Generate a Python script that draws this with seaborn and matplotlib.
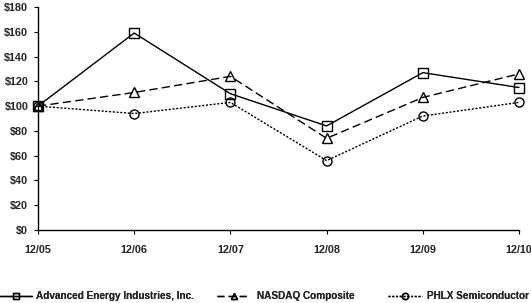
import matplotlib
matplotlib.use("Agg")
import matplotlib.pyplot as plt
import seaborn as sns
import pandas as pd
from matplotlib.lines import Line2D

periods = ["12/05", "12/06", "12/07", "12/08", "12/09", "12/10"]
aeis = [100, 159, 110, 84, 127, 115]
nasdaq = [100, 111, 124, 74, 107, 126]
phlx = [100, 94, 103, 56, 92, 103]
series_names = ["Advanced Energy Industries, Inc.", "NASDAQ Composite", "PHLX Semiconductor"]
y_ticks = [0, 20, 40, 60, 80, 100, 120, 140, 160, 180]

rows = []
for name, vals in zip(series_names, [aeis, nasdaq, phlx]):
    for i, (p, v) in enumerate(zip(periods, vals)):
        rows.append({"idx": i, "period": p, "value": v, "series": name})
df = pd.DataFrame(rows)

sns.set_style("white")
plt.rcParams["font.family"] = ["Liberation Sans", "DejaVu Sans"]
plt.rcParams["font.weight"] = "bold"

fig = plt.figure(figsize=(5.31, 3.03), dpi=100)
ax = fig.add_axes([38/531, 1-230/303, (519-38)/531, (230-7)/303])

markers = {series_names[0]: "s", series_names[1]: "^", series_names[2]: "o"}
dashes = {series_names[0]: "", series_names[1]: (6, 3), series_names[2]: (1.5, 1.2)}
sns.lineplot(data=df, x="idx", y="value", hue="series", style="series",
             palette=["black"]*3, markers=markers, dashes=dashes,
             markersize=6.5, markerfacecolor="none", markeredgecolor="black",
             markeredgewidth=1.0, linewidth=1.0, ax=ax, legend=False, clip_on=False)
for ln in ax.lines:
    ln.set_markerfacecolor("none")
    ln.set_clip_on(False)

ax.set_xlim(0, len(periods)-1)
ax.set_ylim(0, 180)
ax.set_xticks(range(len(periods)))
ax.set_xticklabels(periods, fontsize=7.8, fontweight="bold")
ax.set_yticks(y_ticks)
ax.set_yticklabels([f"${v}" for v in y_ticks], fontsize=7.8, fontweight="bold")
ax.set_xlabel("")
ax.set_ylabel("")
for s in ["top", "right"]:
    ax.spines[s].set_visible(False)
for s in ["left", "bottom"]:
    ax.spines[s].set_color("black")
    ax.spines[s].set_linewidth(1.0)
ax.tick_params(axis="both", which="both", direction="out", length=3, width=0.8,
               color="black", left=True, bottom=True, pad=8)
ax.tick_params(axis="y", pad=4)

handles = [
    Line2D([], [], color="black", linestyle="-", marker="s", markerfacecolor="none", markersize=4.5, linewidth=1),
    Line2D([], [], color="black", linestyle=(0, (5, 3)), marker="^", markerfacecolor="none", markersize=4.5, linewidth=1),
    Line2D([], [], color="black", linestyle=(0, (1.5, 1.2)), marker="o", markerfacecolor="none", markersize=4.5, linewidth=1),
]
# (handle start px, handle length in em, text pad in em)
leg_specs = [(0, 3.2, 0.4), (217, 3.3, 0.7), (388, 3.4, 0.5)]
for h, name, (x0, hl, tp) in zip(handles, series_names, leg_specs):
    leg = fig.legend([h], [name], loc="center left", bbox_to_anchor=(x0/531, 1-296/303),
                     frameon=False, borderpad=0, borderaxespad=0, handlelength=hl,
                     handletextpad=tp, prop={"weight": "bold", "size": 7.2})
    fig.add_artist(leg)

fig.savefig("out.png", dpi=100)
